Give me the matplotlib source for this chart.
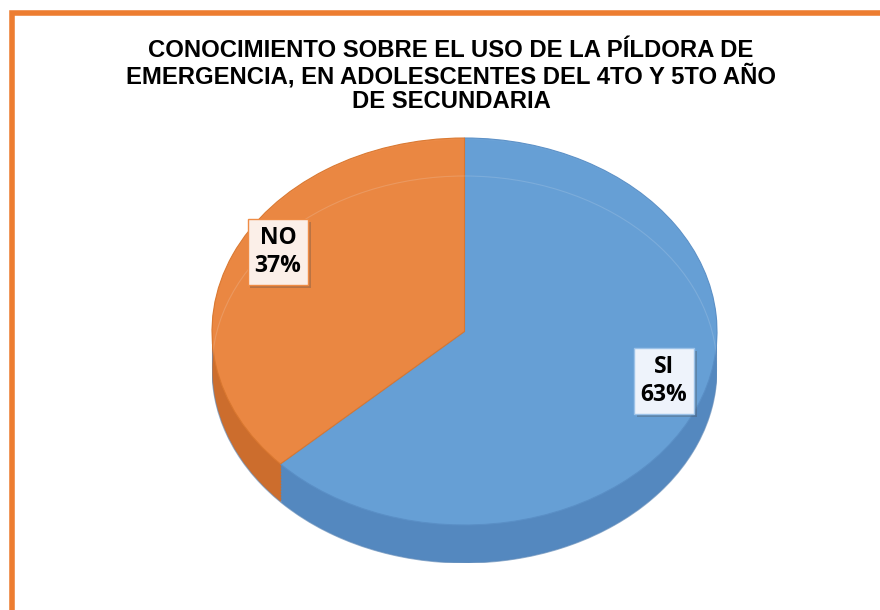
import numpy as np
import matplotlib.pyplot as plt
from matplotlib.patches import Rectangle, Ellipse
import matplotlib.patheffects as pe

# datos del grafico
categorias = ['SI', 'NO']
porcentajes = [63, 37]
colores = ['#67a0d6', '#ec8843']
colores_lado = ['#5488bf', '#cc6d2d']

titulo = ('CONOCIMIENTO SOBRE EL USO DE LA PÍLDORA DE\n'
          'EMERGENCIA, EN ADOLESCENTES DEL 4TO Y 5TO AÑO\n'
          'DE SECUNDARIA')

W, H = 880, 610
fig = plt.figure(figsize=(W / 100, H / 100), dpi=100)
fig.patch.set_facecolor('white')

# borde naranja (parte superior e izquierda del marco)
fig.patches.append(Rectangle((12 / W, -0.1), 1.2, 1 - 13 / H + 0.1,
                             transform=fig.transFigure, fill=False,
                             edgecolor='#ed7d31', linewidth=4))

fig.text(451 / W, 1 - 76 / H, titulo, ha='center', va='center',
         fontsize=17.2, fontweight='bold', family='Liberation Sans',
         linespacing=1.08)

# ejes para la torta "3D" (elipse aplastada)
top, bottom, left, right = 138, 563, 212, 717
ax = fig.add_axes([left / W, 1 - bottom / H, (right - left) / W, (bottom - top) / H])
ax.axis('off')
d = 38 / 193.5  # grosor del lado en unidades de datos

# lado del cilindro: capas apiladas
capas = 25
for i, off in enumerate(np.linspace(-d, 0, capas, endpoint=False)):
    w, _ = ax.pie(porcentajes, colors=colores_lado, startangle=90,
                  counterclock=False, center=(0, off), radius=1,
                  wedgeprops=dict(linewidth=0), frame=True)
    for p in w:
        p.set_zorder(1 + i * 0.01)

# borde inferior
ax.add_patch(Ellipse((0, -d), 2, 2, fill=False, edgecolor='#3d70a8',
                     linewidth=0.8, alpha=0.6, zorder=1.5))

# cara superior
wedges, _ = ax.pie(porcentajes, colors=colores, startangle=90,
                   counterclock=False, center=(0, 0), radius=1,
                   wedgeprops=dict(linewidth=0.8, edgecolor='#5a8fc6'),
                   frame=True)
wedges[1].set_edgecolor('#d9772f')
for p in wedges:
    p.set_zorder(3)
    p.set_alpha(0.97)

# linea interior visible por transparencia
ax.add_patch(Ellipse((0, -d), 2, 2, fill=False, edgecolor='#ffffff',
                     linewidth=0.8, alpha=0.15, zorder=4))

ax.set_aspect('auto')
ax.set_xlim(-1.0, 1.0)
ax.set_ylim(-1 - d, 1.0)
ax.set_xticks([])
ax.set_yticks([])
for s in ax.spines.values():
    s.set_visible(False)

# etiquetas de datos
pos_etiquetas = [(664, 381), (278, 252)]
fondos = ['#eef3fb', '#fbefe8']
bordes = ['#9cc2e8', '#ef8c45']
for cat, pct, (px, py), fc, ec in zip(categorias, porcentajes, pos_etiquetas, fondos, bordes):
    t = fig.text(px / W, 1 - py / H, f'{cat}\n{pct}%', ha='center', va='center',
                 fontsize=16.5, fontweight='bold', family='Open Sans',
                 linespacing=1.25, zorder=10,
                 bbox=dict(boxstyle='square,pad=0.3', facecolor=fc,
                           edgecolor=ec, linewidth=1))
    t.get_bbox_patch().set_path_effects([
        pe.SimplePatchShadow(offset=(2, -2), alpha=0.3), pe.Normal()])

fig.savefig('out.png', dpi=100)
